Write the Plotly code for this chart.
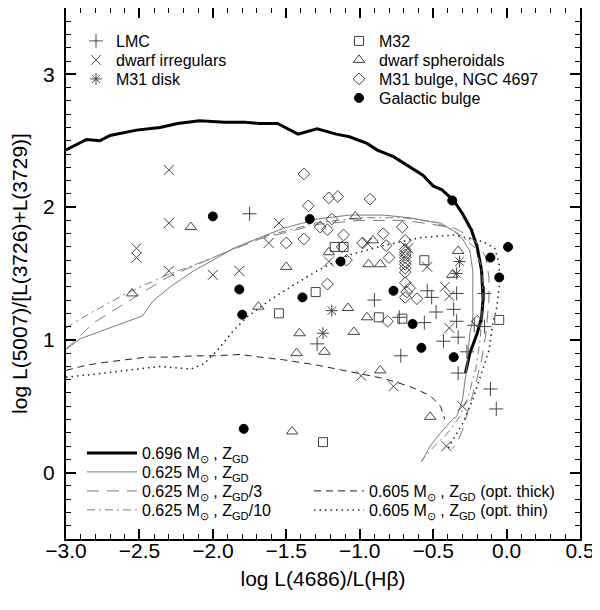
import plotly.graph_objects as go

# model tracks (log L(4686)/L(Hb) vs log L(5007)/L(3727))
thick_x = [-3.0, -2.86, -2.77, -2.70, -2.52, -2.36, -2.24, -2.09, -1.92, -1.78, -1.68, -1.56, -1.42, -1.29, -1.16,
           -1.07, -0.95, -0.88, -0.77, -0.66, -0.57, -0.50, -0.44, -0.36, -0.30, -0.24, -0.20, -0.17, -0.16, -0.17,
           -0.20, -0.25, -0.28]
thick_y = [2.43, 2.51, 2.50, 2.54, 2.58, 2.60, 2.63, 2.65, 2.64, 2.64, 2.63, 2.63, 2.55, 2.59, 2.55,
           2.53, 2.48, 2.43, 2.38, 2.30, 2.24, 2.16, 2.13, 2.05, 1.95, 1.83, 1.70, 1.52, 1.30, 1.17,
           1.05, 0.90, 0.75]

solid_x = [-3.0, -2.90, -2.48, -2.41, -2.29, -2.13, -2.0, -1.86, -1.68, -1.52, -1.29, -1.07, -0.84, -0.66, -0.52,
           -0.45, -0.36, -0.30, -0.25, -0.23, -0.23, -0.23, -0.25, -0.27, -0.30, -0.34, -0.36, -0.45, -0.52, -0.58]
solid_y = [0.93, 1.01, 1.18, 1.29, 1.40, 1.52, 1.60, 1.69, 1.77, 1.84, 1.91, 1.94, 1.94, 1.92, 1.89,
           1.88, 1.82, 1.76, 1.67, 1.52, 1.35, 1.15, 1.05, 0.80, 0.55, 0.42, 0.41, 0.30, 0.20, 0.08]

z3_x = [-3.0, -2.81, -2.49, -2.31, -2.0, -1.68, -1.29, -1.0, -0.7, -0.5, -0.35, -0.27, -0.20, -0.14, -0.12,
        -0.12, -0.14, -0.17, -0.21, -0.26, -0.30, -0.34, -0.37]
z3_y = [0.93, 1.13, 1.35, 1.47, 1.62, 1.76, 1.87, 1.90, 1.90, 1.87, 1.84, 1.79, 1.73, 1.62, 1.47,
        1.30, 1.05, 0.85, 0.67, 0.48, 0.32, 0.22, 0.18]

z10_x = [-3.0, -2.90, -2.59, -2.31, -2.04, -1.68, -1.30, -1.0, -0.7, -0.5, -0.35, -0.22, -0.17, -0.16, -0.18,
         -0.21, -0.26, -0.32, -0.40, -0.50, -0.58]
z10_y = [1.09, 1.16, 1.35, 1.49, 1.60, 1.77, 1.88, 1.92, 1.92, 1.89, 1.82, 1.70, 1.55, 1.30, 1.00,
         0.78, 0.58, 0.42, 0.30, 0.19, 0.09]

thk_x = [-3.0, -2.86, -2.74, -2.59, -2.45, -2.29, -2.13, -2.0, -1.81, -1.68, -1.52, -1.29, -1.07, -0.84, -0.66,
         -0.52, -0.45, -0.42]
thk_y = [0.77, 0.81, 0.83, 0.85, 0.87, 0.87, 0.88, 0.88, 0.89, 0.87, 0.85, 0.81, 0.76, 0.71, 0.65,
         0.58, 0.50, 0.40]

thn_x = [-3.0, -2.81, -2.59, -2.36, -2.15, -2.06, -1.97, -1.86, -1.77, -1.68, -1.61, -1.47, -1.29, -1.07, -0.84,
         -0.59, -0.36, -0.16, -0.08, -0.05, -0.05, -0.07, -0.09, -0.12, -0.17, -0.23, -0.30, -0.36, -0.40]
thn_y = [0.72, 0.74, 0.77, 0.80, 0.78, 0.82, 0.92, 1.07, 1.17, 1.24, 1.30, 1.40, 1.52, 1.64, 1.71,
         1.77, 1.79, 1.74, 1.69, 1.57, 1.40, 1.22, 1.15, 0.92, 0.75, 0.55, 0.37, 0.25, 0.18]

# observed PNe
lmc_x = [-1.75, -0.90, -0.54, -0.51, -0.34, -0.48, -0.36, -0.34, -0.56, -0.73, -0.43, -0.33, -0.72, -0.27,
         -0.33, -0.15, -0.22, -0.15, -0.11, -0.07, -1.29]
lmc_y = [1.95, 1.30, 1.37, 1.32, 1.35, 1.21, 1.23, 1.14, 1.13, 1.17, 0.99, 1.02, 0.88, 0.91,
         0.75, 1.35, 1.11, 1.10, 0.63, 0.48, 0.97]

dirr_x = [-2.30, -2.30, -2.52, -2.52, -2.30, -2.00, -1.82, -1.55, -1.62, -0.95, -1.21, -0.67, -0.54, -0.42,
          -0.39, -0.39, -0.99, -0.77, -0.30, -0.41]
dirr_y = [2.28, 1.88, 1.69, 1.62, 1.52, 1.49, 1.52, 1.88, 1.73, 1.73, 1.59, 1.69, 1.55, 1.40,
          1.33, 1.09, 0.73, 0.65, 0.50, 0.20]

m31d_x = [-1.19, -1.25, -0.32, -0.34]
m31d_y = [1.22, 1.05, 1.59, 1.50]

m32_x = [-1.17, -1.11, -0.56, -1.30, -1.55, -0.87, -0.71, -0.05, -1.25]
m32_y = [1.70, 1.70, 1.60, 1.36, 1.20, 1.17, 1.16, 1.15, 0.23]

dsph_x = [-2.55, -2.15, -1.69, -1.03, -0.91, -1.21, -0.94, -0.86, -1.50, -1.08, -0.95, -0.33, -0.37, -1.41,
          -1.04, -1.24, -1.43, -0.86, -0.52, -1.46]
dsph_y = [1.35, 1.85, 1.25, 1.93, 1.75, 1.66, 1.57, 1.57, 1.55, 1.24, 1.17, 1.67, 1.49, 1.05,
          1.06, 0.91, 0.90, 0.77, 0.42, 0.31]

m31b_x = [-1.38, -1.21, -1.15, -0.93, -1.35, -1.19, -1.27, -1.22, -1.38, -1.50, -1.11, -0.71, -0.84, -0.98,
          -0.69, -1.12, -0.82, -0.80, -1.09, -1.22, -0.69, -0.69, -0.69, -0.69, -0.69, -0.69, -0.69, -0.69,
          -0.69, -0.66, -0.68, -0.69, -0.61, -0.81, -0.20]
m31b_y = [2.25, 2.07, 2.08, 2.06, 2.01, 1.91, 1.85, 1.83, 1.76, 1.73, 1.79, 1.85, 1.80, 1.73,
          1.75, 1.70, 1.71, 1.62, 1.60, 1.42, 1.68, 1.66, 1.64, 1.62, 1.59, 1.57, 1.54, 1.51,
          1.43, 1.39, 1.36, 1.32, 1.31, 1.14, 1.14]

galb_x = [-2.00, -1.34, -1.82, -1.80, -1.13, -1.39, -0.77, -0.64, -0.58, -0.36, -0.37, 0.01, -0.11, -0.05, -1.79]
galb_y = [1.93, 1.91, 1.38, 1.19, 1.59, 1.32, 1.37, 1.12, 0.94, 0.87, 2.05, 1.70, 1.62, 1.47, 0.33]

FONT = 'Liberation Sans, Arial, Helvetica, sans-serif'
sym_col = '#444444'
gray = '#7a7a7a'

# the page adds an 8px body margin, so the figure is drawn 8px smaller
OFF = 8
W, H = 600 - OFF, 610 - OFF
# plot area in picture pixels
L, R, T, B = 66, 580, 8, 539


def px_to_paper(px, py):
    return (px - L) / (R - L), (B - py) / (B - T)


fig = go.Figure()
legends = {}
n = [0]


def new_legend(px, py, itemwidth=30):
    n[0] += 1
    key = 'legend' if n[0] == 1 else 'legend%d' % n[0]
    x, y = px_to_paper(px, py)
    legends[key] = dict(x=x, y=y, xanchor='left', yanchor='middle', bgcolor='rgba(0,0,0,0)', borderwidth=0,
                        font=dict(family=FONT, size=16, color='black'), itemwidth=itemwidth, itemclick=False)
    return key


def curve(x, y, name, line, px, py):
    fig.add_trace(go.Scatter(x=x, y=y, mode='lines', line=line, name=name, showlegend=True,
                             legend=new_legend(px, py, itemwidth=50)))


def pts(x, y, name, symbol, size, px, py, color=sym_col):
    fig.add_trace(go.Scatter(x=x, y=y, mode='markers', name=name, legend=new_legend(px, py), showlegend=True,
                             marker=dict(symbol=symbol, size=size, color=color,
                                         line=dict(color=color, width=1))))


sun = 'M<sub>⊙</sub> , Z<sub>GD</sub>'
curve(thick_x, thick_y, '0.696 ' + sun, dict(color='black', width=3), 82, 453)
curve(solid_x, solid_y, '0.625 ' + sun, dict(color=gray, width=1), 82, 472)
curve(z3_x, z3_y, '0.625 ' + sun + '/3', dict(color=gray, width=1, dash='12px,8px'), 82, 491)
curve(z10_x, z10_y, '0.625 ' + sun + '/10', dict(color=gray, width=1, dash='8px,4px,2px,4px'), 82, 510)
curve(thk_x, thk_y, '0.605 ' + sun + ' (opt. thick)', dict(color='#222222', width=1, dash='7px,5px'), 309, 491)
curve(thn_x, thn_y, '0.605 ' + sun + ' (opt. thin)', dict(color='#222222', width=1.5, dash='1.5px,4px'), 309, 510)

pts(lmc_x, lmc_y, 'LMC', 'cross-thin-open', 10, 76, 41)
pts(dirr_x, dirr_y, 'dwarf irregulars', 'x-thin-open', 10, 76, 60)
pts(m31d_x, m31d_y, 'M31 disk', 'asterisk-open', 10, 76, 79)
pts(m32_x, m32_y, 'M32', 'square-open', 9, 339, 41)
pts(dsph_x, dsph_y, 'dwarf spheroidals', 'triangle-up-open', 10, 339, 60)
pts(m31b_x, m31b_y, 'M31 bulge, NGC 4697', 'diamond-open', 9, 339, 79)
pts(galb_x, galb_y, 'Galactic bulge', 'circle', 9, 339, 98, color='black')

axis_common = dict(showline=True, linewidth=2, linecolor='black', mirror='allticks', ticks='inside',
                   ticklen=10, tickwidth=1.5, tickcolor='black', showgrid=False, zeroline=False,
                   automargin=False, layer='above traces',
                   tickfont=dict(family=FONT, size=21, color='black'))
minor = dict(ticks='inside', ticklen=5, tickcolor='black', tickwidth=1, showgrid=False)

fig.update_layout(
    width=W, height=H, showlegend=True,
    margin=dict(l=L - OFF, r=600 - R, t=T - OFF, b=610 - B, autoexpand=False),
    paper_bgcolor='white', plot_bgcolor='white',
    font=dict(family=FONT, color='black'),
    xaxis=dict(range=[-3.0, 0.5], dtick=0.5, tick0=0, tickformat='.1f', minor=dict(dtick=0.1, **minor),
               ticklabelstandoff=-8,
               title=dict(text='log L(4686)/L(Hβ)', standoff=10,
                          font=dict(family=FONT, size=21, color='black')), **axis_common),
    yaxis=dict(range=[-0.5, 3.5], dtick=1, tick0=0, minor=dict(dtick=0.1, **minor),
               ticklabelstandoff=5,
               title=dict(text='log L(5007)/[L(3726)+L(3729)]', standoff=15,
                          font=dict(family=FONT, size=21, color='black')), **axis_common),
    **legends,
)

fig.write_html("out.html")
